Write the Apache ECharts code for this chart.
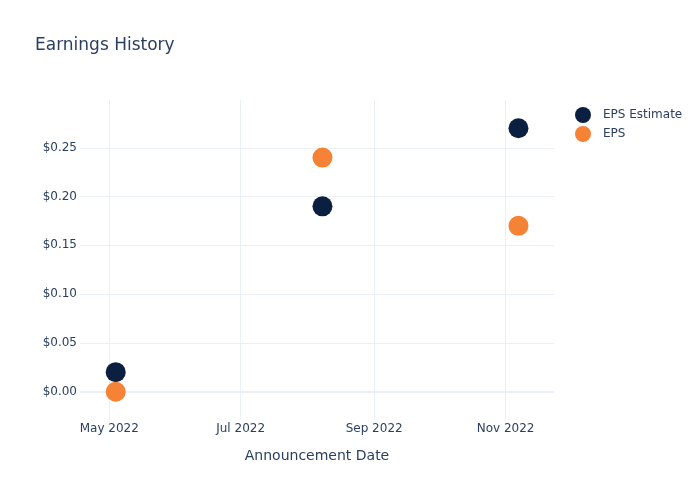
<!DOCTYPE html>
<html>
<head>
<meta charset="utf-8">
<script src="https://cdn.jsdelivr.net/npm/echarts@6/dist/echarts.min.js"></script>
<style>html,body{margin:0;padding:0;background:#fff}#c{width:700px;height:500px}</style>
</head>
<body>
<div id="c"></div>
<script>
var dates = ['2022-05-04', '2022-08-08', '2022-11-07'];
var epsEstimate = [0.02, 0.19, 0.27];
var eps = [0.00, 0.24, 0.17];
var seriesNames = ['EPS Estimate', 'EPS'];

var chart = echarts.init(document.getElementById('c'), null, {renderer: 'canvas'});
var font = 'DejaVu Sans, Verdana, sans-serif';
var txt = '#2a3f5f';
var gridCol = '#ebf0f8';

function pairs(vals) { return dates.map(function (d, i) { return [d, vals[i]]; }); }

chart.setOption({
  animation: false,
  backgroundColor: '#fff',
  textStyle: {fontFamily: font, color: txt},
  title: {
    text: 'Earnings History', left: 35, top: 37, padding: 0,
    textStyle: {fontFamily: font, fontSize: 17, fontWeight: 'normal', color: txt}
  },
  legend: {
    orient: 'vertical', left: 575, top: 107, padding: 0,
    itemWidth: 16, itemHeight: 16, itemGap: 3,
    icon: 'circle',
    data: seriesNames,
    textStyle: {fontFamily: font, fontSize: 12, color: txt, padding: [0, 0, 0, 7]}
  },
  grid: {left: 80, right: 146, top: 100, bottom: 80, containLabel: false},
  xAxis: {
    type: 'time',
    min: new Date(2022, 3, 17, 10).getTime(),
    max: new Date(2022, 10, 23, 12).getTime(),
    splitNumber: 3,
    name: 'Announcement Date', nameLocation: 'middle', nameGap: 29,
    nameTextStyle: {fontFamily: font, fontSize: 14, color: txt},
    axisLine: {show: false}, axisTick: {show: false},
    axisLabel: {
      formatter: '{MMM} {yyyy}', fontFamily: font, fontSize: 12, color: txt, margin: 3,
      showMinLabel: false, showMaxLabel: false
    },
    splitLine: {show: true, showMinLine: false, showMaxLine: false, lineStyle: {color: gridCol, width: 1}}
  },
  yAxis: {
    type: 'value', min: -0.029, max: 0.299, splitNumber: 5,
    axisLine: {show: false}, axisTick: {show: false},
    axisLabel: {
      formatter: function (v) { return '$' + v.toFixed(2); },
      fontFamily: font, fontSize: 12, color: txt, margin: 3,
      showMinLabel: false, showMaxLabel: false
    },
    splitLine: {show: true, showMinLine: false, showMaxLine: false, lineStyle: {color: gridCol, width: 1}}
  },
  series: [
    {
      name: seriesNames[0], type: 'scatter', symbolSize: 20,
      itemStyle: {color: '#0b1f41', opacity: 1},
      data: pairs(epsEstimate),
      markLine: {
        silent: true, symbol: 'none', label: {show: false},
        lineStyle: {color: gridCol, width: 2, type: 'solid'},
        data: [{yAxis: 0}], z: 0
      },
      z: 3
    },
    {
      name: seriesNames[1], type: 'scatter', symbolSize: 20,
      itemStyle: {color: '#f58235', opacity: 1},
      data: pairs(eps),
      z: 4
    }
  ]
});
</script>
</body>
</html>
